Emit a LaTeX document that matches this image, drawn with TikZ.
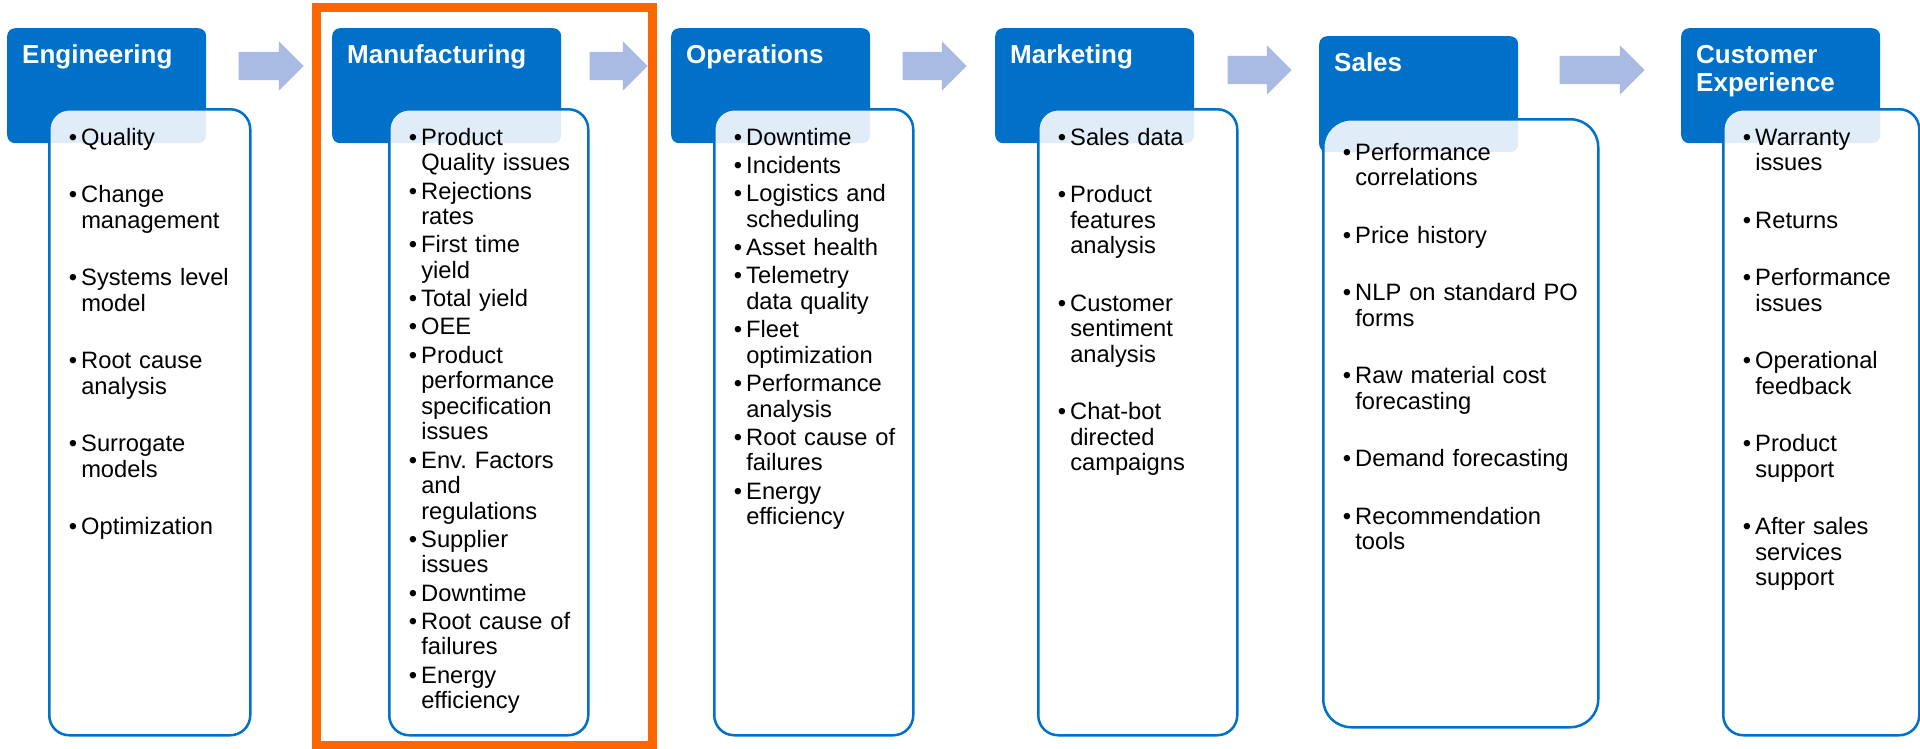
\documentclass[tikz,border=0pt]{standalone}
\usepackage{fontspec}
\setmainfont{Liberation Sans}
\usetikzlibrary{shapes.arrows,calc}

\definecolor{headblue}{RGB}{0,112,200}
\definecolor{flowblue}{RGB}{170,187,227}
\definecolor{focusorange}{RGB}{255,102,0}

\newcommand{\bpt}{\leavevmode\llap{\textbullet\hspace{4pt}}}
\newcommand{\listsetup}[1]{\raggedright\frenchspacing\leftskip=24pt\parskip=#1\relax}

\begin{document}
\begin{tikzpicture}[x=1pt, y=-1pt]

% Define styles
\tikzstyle{stage} = [rectangle, rounded corners=8pt, anchor=north west, fill=headblue, text=white, inner xsep=15pt, inner ysep=0pt, text width=169pt, text height=35pt, text depth=80pt, font=\fontsize{26pt}{28pt}\selectfont\bfseries]
\tikzstyle{tasks} = [rectangle, rounded corners=20pt, anchor=north west, draw=headblue, line width=2.5pt, fill=white, fill opacity=0.88, text opacity=1, inner xsep=8pt, inner ysep=0pt, text height=36pt, text depth=590pt, font=\fontsize{23.7pt}{25.5pt}\selectfont]
\tikzstyle{flow} = [single arrow, anchor=tail, fill=flowblue, draw=none, minimum width=49pt, single arrow head extend=10.5pt, single arrow tip angle=90, inner xsep=0pt, inner ysep=14pt]
\tikzstyle{focus} = [draw=focusorange, line width=8.5pt]

\useasboundingbox (0,0) rectangle (1920,748);

% Stage headers
\node (eng) [stage] at (7,28) {Engineering};
\node (mfg) [stage, text width=199pt] at (332,28) {Manufacturing};
\node (ops) [stage] at (671,28) {Operations};
\node (mkt) [stage] at (995,28) {Marketing};
\node (sales) [stage, text depth=81pt] at (1319,36) {Sales};
\node (cx) [stage] at (1681,28) {Customer\newline Experience};

% Use case lists
\node (eng_list) [tasks, text width=185pt] at (48,108) {\listsetup{32pt}%
\bpt Quality\par
\bpt Change\newline management\par
\bpt Systems level\newline model\par
\bpt Root cause\newline analysis\par
\bpt Surrogate\newline models\par
\bpt Optimization\par};

\node (mfg_list) [tasks, text width=183pt] at (388,108) {\listsetup{2.8pt}%
\bpt Product\newline Quality issues\par
\bpt Rejections\newline rates\par
\bpt First time\newline yield\par
\bpt Total yield\par
\bpt OEE\par
\bpt Product\newline performance\newline specification\newline issues\par
\bpt Env. Factors\newline and\newline regulations\par
\bpt Supplier\newline issues\par
\bpt Downtime\par
\bpt Root cause of\newline failures\par
\bpt Energy\newline efficiency\par};

\node (ops_list) [tasks, text width=183pt] at (713,108) {\listsetup{2.8pt}%
\bpt Downtime\par
\bpt Incidents\par
\bpt Logistics and\newline scheduling\par
\bpt Asset health\par
\bpt Telemetry\newline data quality\par
\bpt Fleet\newline optimization\par
\bpt Performance\newline analysis\par
\bpt Root cause of\newline failures\par
\bpt Energy\newline efficiency\par};

\node (mkt_list) [tasks, text width=183pt] at (1037,108) {\listsetup{32pt}%
\bpt Sales data\par
\bpt Product\newline features\newline analysis\par
\bpt Customer\newline sentiment\newline analysis\par
\bpt Chat-bot\newline directed\newline campaigns\par};

\node (sales_list) [tasks, rounded corners=28pt, text width=259pt, text height=41pt, text depth=567pt] at (1322,118) {\listsetup{32pt}%
\bpt Performance\newline correlations\par
\bpt Price history\par
\bpt NLP on standard PO\newline forms\par
\bpt Raw material cost\newline forecasting\par
\bpt Demand forecasting\par
\bpt Recommendation\newline tools\par};

\node (cx_list) [tasks, text width=180pt] at (1722,108) {\listsetup{32pt}%
\bpt Warranty\newline issues\par
\bpt Returns\par
\bpt Performance\newline issues\par
\bpt Operational\newline feedback\par
\bpt Product\newline support\par
\bpt After sales\newline services\newline support\par};

% Flow arrows between stages
\node (eng_mfg) [flow, minimum height=65pt] at ($(eng.north east)+(32,38)$) {};
\node (mfg_ops) [flow, minimum height=58pt] at ($(mfg.north east)+(28,38)$) {};
\node (ops_mkt) [flow, minimum height=64pt] at ($(ops.north east)+(32,38)$) {};
\node (mkt_sales) [flow, minimum height=64pt] at ($(mkt.north east)+(33,42)$) {};
\node (sales_cx) [flow, minimum height=85pt] at ($(sales.north east)+(41,34)$) {};

% Highlight on manufacturing
\draw [focus] (316.5,7.5) rectangle (652.5,745);

\end{tikzpicture}
\end{document}
